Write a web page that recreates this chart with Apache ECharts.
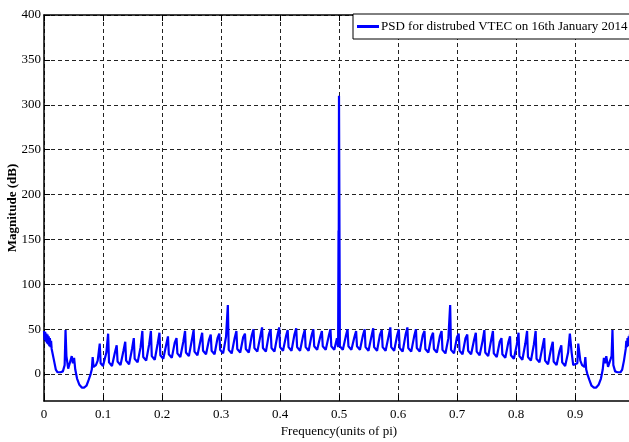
<!DOCTYPE html>
<html>
<head>
<meta charset="UTF-8">
<title>PSD</title>
<script src="https://cdn.jsdelivr.net/npm/echarts@6/dist/echarts.min.js"></script>
<style>
  * { margin: 0; padding: 0; }
  body { background: #fff; }
  #main { width: 629px; height: 442px; }
</style>
</head>
<body>
<div id="main"></div>
<script>
// frequency (units of pi) and magnitude (dB)
var freq = [
  0, 0.001, 0.002, 0.003, 0.004, 0.005, 0.006, 0.007, 0.008, 0.009, 0.010, 0.011, 0.012, 0.013,
  0.014, 0.017, 0.020, 0.023, 0.028, 0.032, 0.035,
  0.0365, 0.038, 0.041, 0.044, 0.047, 0.049, 0.051, 0.053, 0.056, 0.060, 0.064, 0.068, 0.072,
  0.076, 0.079, 0.081, 0.0825, 0.084, 0.088, 0.091, 0.0945, 0.096, 0.100, 0.103, 0.1057,
  0.1087, 0.1102, 0.1152, 0.1202,
  0.1232, 0.1247, 0.1297, 0.1347,
  0.1377, 0.1392, 0.1442, 0.1492,
  0.1522, 0.1537, 0.1587, 0.1637,
  0.1667, 0.1682, 0.1732, 0.1782,
  0.1812, 0.1827, 0.1877, 0.1927,
  0.1957, 0.1972, 0.2022, 0.2072,
  0.2101, 0.2116, 0.2166, 0.2216,
  0.2246, 0.2261, 0.2311, 0.2361,
  0.2391, 0.2406, 0.2456, 0.2506,
  0.2536, 0.2551, 0.2601, 0.2651,
  0.2681, 0.2696, 0.2746, 0.2796,
  0.2826, 0.2841, 0.2891, 0.2941,
  0.2971, 0.2986, 0.3036, 0.3086,
  0.3116, 0.3131, 0.3181, 0.3231,
  0.3261, 0.3276, 0.3326, 0.3376,
  0.3406, 0.3421, 0.3471, 0.3521,
  0.3551, 0.3566, 0.3616, 0.3666,
  0.3696, 0.3711, 0.3761, 0.3811,
  0.3841, 0.3856, 0.3906, 0.3956,
  0.3986, 0.4001, 0.4051, 0.4101,
  0.4130, 0.4145, 0.4195, 0.4245,
  0.4275, 0.4290, 0.4340, 0.4390,
  0.4420, 0.4435, 0.4485, 0.4535,
  0.4565, 0.4580, 0.4630, 0.4680,
  0.4710, 0.4725, 0.4775, 0.4825,
  0.4855, 0.4870, 0.4920, 0.4965, 0.4985, 0.4992, 0.4996,
  0.5000, 0.5015, 0.5065, 0.5115,
  0.5145, 0.5160, 0.5210, 0.5260,
  0.5290, 0.5305, 0.5355, 0.5405,
  0.5435, 0.5450, 0.5500, 0.5550,
  0.5580, 0.5595, 0.5645, 0.5695,
  0.5725, 0.5740, 0.5790, 0.5840,
  0.5870, 0.5885, 0.5935, 0.5985,
  0.6014, 0.6029, 0.6079, 0.6129,
  0.6159, 0.6174, 0.6224, 0.6274,
  0.6304, 0.6319, 0.6369, 0.6419,
  0.6449, 0.6464, 0.6514, 0.6564,
  0.6594, 0.6609, 0.6659, 0.6709,
  0.6739, 0.6754, 0.6804, 0.6854,
  0.6884, 0.6899, 0.6949, 0.6999,
  0.7029, 0.7044, 0.7094, 0.7144,
  0.7174, 0.7189, 0.7239, 0.7289,
  0.7319, 0.7334, 0.7384, 0.7434,
  0.7464, 0.7479, 0.7529, 0.7579,
  0.7609, 0.7624, 0.7674, 0.7724,
  0.7754, 0.7769, 0.7819, 0.7869,
  0.7899, 0.7914, 0.7964, 0.8014,
  0.8043, 0.8058, 0.8108, 0.8158,
  0.8188, 0.8203, 0.8253, 0.8303,
  0.8333, 0.8348, 0.8398, 0.8448,
  0.8478, 0.8493, 0.8543, 0.8593,
  0.8623, 0.8638, 0.8688, 0.8738,
  0.8768, 0.8783, 0.8833, 0.8883,
  0.8913, 0.8943, 0.897, 0.900, 0.904, 0.9055, 0.909, 0.912, 0.916, 0.9175, 0.919, 0.921,
  0.924, 0.928, 0.932, 0.936, 0.940, 0.944, 0.947, 0.949, 0.951, 0.953, 0.956, 0.959, 0.962,
  0.9635, 0.965, 0.968, 0.972, 0.977, 0.980, 0.983, 0.986, 0.987, 0.988, 0.989, 0.990, 0.991,
  0.992, 0.993, 0.994, 0.995, 0.996, 0.997, 0.998, 0.999, 1.0
];
var magnitude = [
  48, 38, 47, 36, 45, 34, 44, 33, 42, 31, 40, 30, 37, 28,
  30, 15, 5, 2, 2, 3, 10,
  49, 20, 6, 8, 20, 12, 18, 5, -5, -12, -15, -15, -13,
  -6, 0, 5, 19, 8, 10, 15, 34, 12, 9, 10, 24,
  45, 13, 9, 24,
  32, 14, 10, 26,
  36, 15, 11, 28,
  40, 17, 13, 30,
  48, 19, 15, 33,
  48, 20, 16, 34,
  46, 21, 17, 33,
  42, 22, 18, 35,
  40, 23, 19, 36,
  48, 24, 20, 38,
  49, 25, 21, 37,
  46, 26, 22, 38,
  44, 26, 22, 40,
  45, 27, 23, 42,
  77, 27, 23, 40,
  48, 28, 24, 41,
  45, 28, 24, 43,
  50, 29, 25, 42,
  52, 29, 25, 44,
  50, 29, 25, 43,
  52, 30, 26, 42,
  49, 30, 26, 44,
  51, 30, 26, 42,
  49, 30, 26, 43,
  50, 31, 27, 41,
  48, 31, 27, 42,
  50, 31, 27, 40, 30, 160, 150,
  310, 31, 27, 42,
  50, 31, 27, 41,
  48, 31, 27, 43,
  50, 30, 26, 42,
  51, 30, 26, 44,
  49, 30, 26, 42,
  52, 30, 26, 43,
  50, 29, 25, 44,
  52, 29, 25, 42,
  50, 29, 25, 43,
  48, 28, 24, 41,
  46, 28, 24, 42,
  48, 27, 23, 40,
  77, 27, 23, 41,
  45, 26, 22, 40,
  44, 26, 22, 38,
  46, 25, 21, 37,
  49, 24, 20, 38,
  48, 23, 19, 36,
  40, 22, 18, 35,
  42, 21, 17, 33,
  46, 20, 16, 34,
  48, 19, 15, 33,
  48, 17, 13, 30,
  40, 15, 11, 28,
  36, 14, 10, 26,
  32, 13, 9, 24,
  45, 24, 10, 9, 12, 34, 15, 10, 8, 19, 5, 0,
  -6, -13, -15, -15, -12, -5, 5, 18, 12, 20, 8, 6, 20,
  49, 10, 3, 2, 2, 5, 15, 28, 37, 30, 40, 31, 42,
  33, 44, 34, 45, 36, 47, 38, 46, 48
];
var yTicks = [0, 50, 100, 150, 200, 250, 300, 350, 400];
var legendText = 'PSD for distrubed VTEC on 16th January 2014';

var chart = echarts.init(document.getElementById('main'), null, { renderer: 'canvas' });
var serif = 'Liberation Serif, Times New Roman, serif';
var dash = { color: '#222', width: 1, type: [4, 3] };

chart.setOption({
  animation: false,
  backgroundColor: '#fff',
  grid: { left: 44, top: 15, right: -5, bottom: 41, containLabel: false, outerBoundsMode: 'none' },
  legend: {
    left: 353, top: 14,
    padding: [6, 8, 6, 4],
    backgroundColor: '#fff',
    borderColor: '#000', borderWidth: 1, borderRadius: 0,
    icon: 'rect', itemWidth: 22, itemHeight: 3,
    textStyle: { fontFamily: serif, fontSize: 13, color: '#000', padding: [0, 0, 0, -3] },
    data: [legendText]
  },
  xAxis: [{
    type: 'value', min: 0, max: 1, interval: 0.1,
    name: 'Frequency(units of pi)', nameLocation: 'middle', nameGap: 24, nameMoveOverlap: false,
    nameTextStyle: { fontFamily: serif, fontSize: 13, color: '#000' },
    axisLine: { onZero: false, lineStyle: { color: '#000', width: 1.5 } },
    axisTick: { inside: true, length: 6, lineStyle: { color: '#000' } },
    axisLabel: { fontFamily: serif, fontSize: 13, color: '#000', margin: 7, showMaxLabel: false },
    splitLine: { show: true, lineStyle: dash }
  }, {
    type: 'value', min: 0, max: 1, interval: 0.1, position: 'top',
    axisLine: { onZero: false, lineStyle: { color: '#000', width: 1.5 } },
    axisTick: { inside: true, length: 6, lineStyle: { color: '#000' } },
    axisLabel: { show: false },
    splitLine: { show: false }
  }],
  yAxis: {
    type: 'value', min: -30, max: 400,
    name: 'Magnitude (dB)', nameLocation: 'middle', nameGap: 25, nameMoveOverlap: false,
    nameTextStyle: { fontFamily: serif, fontSize: 13, fontWeight: 'bold', color: '#000' },
    axisLine: { show: true, onZero: false, lineStyle: { color: '#000', width: 1.5 } },
    axisTick: { show: true, inside: true, length: 6, lineStyle: { color: '#000' }, customValues: yTicks },
    axisLabel: { fontFamily: serif, fontSize: 13, color: '#000', margin: 3, customValues: yTicks },
    splitLine: { show: true, lineStyle: dash }
  },
  series: [{
    name: legendText,
    type: 'line',
    xAxisIndex: 0,
    showSymbol: false,
    symbol: 'none',
    sampling: null,
    clip: true,
    lineStyle: { color: '#0000ff', width: 2.2 },
    itemStyle: { color: '#0000ff' },
    data: freq.map(function (f, i) { return [f, magnitude[i]]; })
  }]
});
</script>
</body>
</html>
